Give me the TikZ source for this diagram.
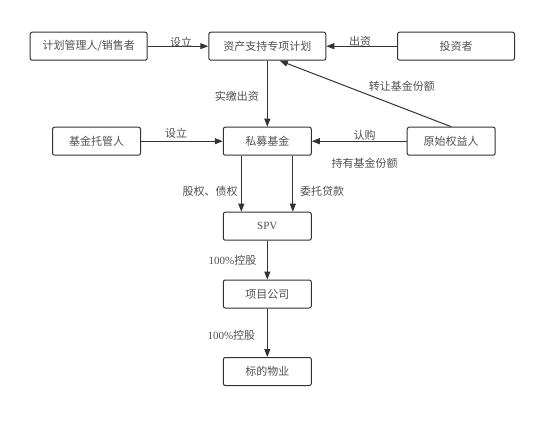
\documentclass[tikz,border=0pt]{standalone}
\usepackage{fontspec}
\setmainfont{Noto Sans CJK SC}
\newfontfamily\latf{Liberation Serif}
\usetikzlibrary{arrows.meta}
\definecolor{linec}{HTML}{333333}
\definecolor{txtc}{HTML}{505050}
\begin{document}
\begin{tikzpicture}[x=1pt,y=-1pt,
  box/.style={draw=linec, line width=1pt, rounded corners=2pt, minimum height=28pt, inner sep=0pt, text=txtc, font=\fontsize{11}{13}\selectfont},
  lbl/.style={text=txtc, font=\fontsize{11}{13}\selectfont, inner sep=0pt},
  arr/.style={draw=linec, line width=1pt, -{Triangle[length=8pt,width=6pt]}}]
\useasboundingbox[fill=white] (0,0) rectangle (554,424);
\node[box,minimum width=117pt] (jh) at (88.7,46.2) {计划管理人/销售者};
\node[box,minimum width=117pt] (zc) at (267.3,46.2) {资产支持专项计划};
\node[box,minimum width=117pt] (tz) at (456,46.2) {投资者};
\node[box,minimum width=88pt] (tg) at (96.5,141.2) {基金托管人};
\node[box,minimum width=88pt] (sm) at (267.3,141.2) {私募基金};
\node[box,minimum width=88pt] (ys) at (451.2,141.2) {原始权益人};
\node[box,minimum width=88pt] (spv) at (267.3,226.2) {\latf SPV};
\node[box,minimum width=88pt] (xm) at (267.3,294) {项目公司};
\node[box,minimum width=88pt] (bd) at (267.3,371.5) {标的物业};
\draw[arr] (jh) -- (zc);
\draw[arr] (tz) -- (zc);
\draw[arr] (zc) -- (sm);
\draw[arr] (ys.north) -- ([xshift=12.5pt]zc.south);
\draw[arr] (tg) -- (sm);
\draw[arr] (ys) -- (sm);
\draw[arr] ([xshift=-26pt]sm.south) -- ([xshift=-26pt]spv.north);
\draw[arr] ([xshift=25.5pt]sm.south) -- ([xshift=25.5pt]spv.north);
\draw[arr] (spv) -- (xm);
\draw[arr] (xm) -- (bd);
\node[lbl] (l1) at (181.2,42.3) {设立};
\node[lbl] (l2) at (360.2,41.7) {出资};
\node[lbl] (l3) at (236.8,96.7) {实缴出资};
\node[lbl] (l4) at (401.8,86.7) {转让基金份额};
\node[lbl] (l5) at (176.2,133.3) {设立};
\node[lbl] (l6) at (364.7,135.7) {认购};
\node[lbl] (l7) at (364.7,163.3) {持有基金份额};
\node[lbl] (l8) at (210.2,191) {股权、债权};
\node[lbl] (l9) at (322.2,191) {委托贷款};
\node[lbl] (l10) at (232.5,260.7) {{\latf 100\%}控股};
\node[lbl] (l11) at (231.4,335) {{\latf 100\%}控股};
\end{tikzpicture}
\end{document}
